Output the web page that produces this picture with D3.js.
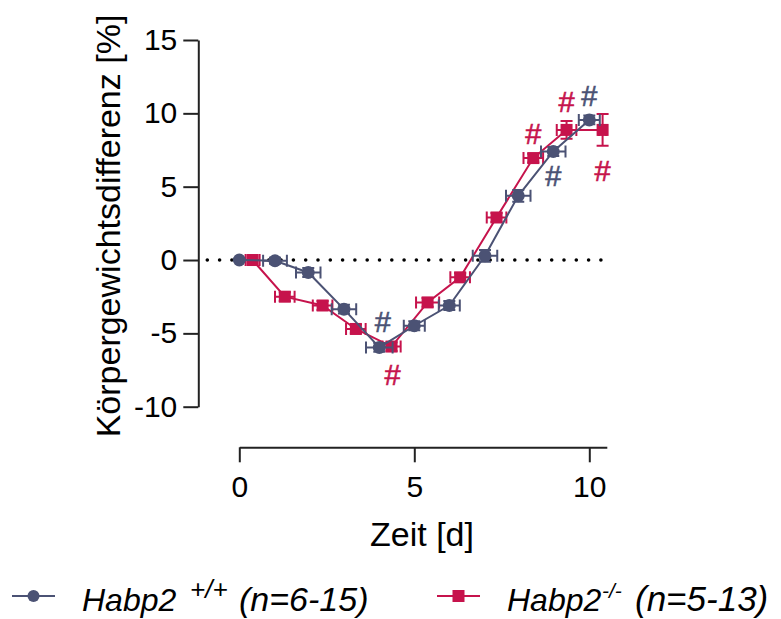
<!DOCTYPE html>
<html lang="de">
<head>
    <meta charset="UTF-8">
    <title>Körpergewichtsdifferenz | D3</title>
    <style>
        body { margin: 0; background: #fff; }
        text { font-family: "Liberation Sans", Arial, sans-serif; fill: #000; }
    </style>
</head>
<body>
    <div id="container"></div>

    <script type="text/javascript" src="https://d3js.org/d3.v7.min.js"></script>
    <script type="text/javascript">
        // Habp2 +/+ (circles)
        var wtDays  = [0, 1.02, 1.97, 2.99, 4.0, 5.0, 6.0, 7.02, 7.97, 8.97, 10.0];
        var wtMean  = [0, -0.05, -0.85, -3.35, -5.96, -4.48, -3.1, 0.29, 4.38, 7.4, 9.55];
        var wtDayErr = [0, 0.34, 0.35, 0.35, 0.38, 0.3, 0.3, 0.35, 0.35, 0.35, 0.3];
        var wtErr   = [0, 0.2, 0.3, 0.3, 0.3, 0.3, 0.3, 0.4, 0.4, 0.3, 0.3];

        // Habp2 -/- (squares)
        var koDays  = [0.38, 1.3, 2.38, 3.33, 4.35, 5.38, 6.31, 7.35, 8.4, 9.35, 10.38];
        var koMean  = [0, -2.5, -3.1, -4.7, -5.9, -2.89, -1.18, 2.9, 6.95, 8.87, 8.87];
        var koDayErr = [0.2, 0.28, 0.28, 0.28, 0.26, 0.33, 0.28, 0.28, 0.28, 0.28, 0.1];
        var koErr   = [0, 0.3, 0.3, 0.3, 0.3, 0.3, 0.3, 0.3, 0.3, 0.6, 1.08];

        // significance marks (#), placed in data units
        var hashSeries = ["wt", "ko", "ko", "wt", "ko", "wt", "ko"];
        var hashX      = [4.1, 4.38, 8.4, 8.97, 9.35, 10.0, 10.38];
        var hashY      = [-4.2, -7.8, 8.6, 5.76, 10.75, 11.2, 6.05];

        var xTicks = [0, 5, 10];
        var yTicks = [-10, -5, 0, 5, 10, 15];

        var colors = { wt: "#4b5274", ko: "#c6134c" };

        var svg = d3.select("#container")
            .append("svg")
            .attr("width", 781)
            .attr("height", 619);

        var x = d3.scaleLinear().domain([0, 10.5]).range([239.3, 606.8]);
        var y = d3.scaleLinear().domain([-10, 15]).range([406.7, 40]);

        // plain hyphen for negatives, like the original
        var fmt = function(d) { return String(d); };

        // axes
        var yAxis = svg.append("g")
            .attr("transform", "translate(198.3,0)")
            .call(d3.axisLeft(y).tickValues(yTicks).tickFormat(fmt)
                .tickSize(15).tickPadding(6).tickSizeOuter(0));
        var xAxis = svg.append("g")
            .attr("transform", "translate(0,447.3)")
            .call(d3.axisBottom(x).tickValues(xTicks).tickFormat(fmt)
                .tickSize(15).tickPadding(13).tickSizeOuter(0));

        [yAxis, xAxis].forEach(function(ax) {
            ax.select(".domain").attr("stroke", "#222").attr("stroke-width", 2);
            ax.selectAll(".tick line").attr("stroke", "#222").attr("stroke-width", 2);
            ax.selectAll(".tick text")
                .attr("font-size", 30)
                .attr("font-family", "'Liberation Sans', Arial, sans-serif")
                .attr("fill", "#111");
        });

        // dotted zero line
        svg.append("line")
            .attr("x1", 198.3 + 9).attr("x2", x(10.5))
            .attr("y1", y(0)).attr("y2", y(0))
            .attr("stroke", "#000")
            .attr("stroke-width", 3.6)
            .attr("stroke-linecap", "round")
            .attr("stroke-dasharray", "0 12.3");

        function makeSeries(days, mean, dayErr, err) {
            return days.map(function(d, i) {
                return { x: d, y: mean[i], ex: dayErr[i], ey: err[i] };
            });
        }

        var series = [
            { key: "wt", shape: "circle", data: makeSeries(wtDays, wtMean, wtDayErr, wtErr) },
            { key: "ko", shape: "square", data: makeSeries(koDays, koMean, koDayErr, koErr) }
        ];

        var line = d3.line()
            .x(function(d) { return x(d.x); })
            .y(function(d) { return y(d.y); });

        var cap = 6;

        // draw wt last so it sits on top like in the reference
        [series[1], series[0]].forEach(function(s) {
            var g = svg.append("g");
            var c = colors[s.key];

            g.append("path")
                .datum(s.data)
                .attr("d", line)
                .attr("fill", "none")
                .attr("stroke", c)
                .attr("stroke-width", 2);

            var eb = g.append("g")
                .attr("stroke", c)
                .attr("stroke-width", 2)
                .selectAll("g")
                .data(s.data.filter(function(d) { return d.ex > 0 || d.ey > 0; }))
                .enter().append("g");

            // horizontal error bars
            eb.filter(function(d) { return d.ex > 0; }).append("path")
                .attr("fill", "none")
                .attr("d", function(d) {
                    var x0 = x(d.x - d.ex), x1 = x(d.x + d.ex), yy = y(d.y);
                    return "M" + x0 + "," + yy + "H" + x1 +
                        "M" + x0 + "," + (yy - cap) + "V" + (yy + cap) +
                        "M" + x1 + "," + (yy - cap) + "V" + (yy + cap);
                });
            // vertical error bars
            eb.filter(function(d) { return d.ey > 0; }).append("path")
                .attr("fill", "none")
                .attr("d", function(d) {
                    var y0 = y(d.y - d.ey), y1 = y(d.y + d.ey), xx = x(d.x);
                    return "M" + xx + "," + y0 + "V" + y1 +
                        "M" + (xx - cap) + "," + y0 + "H" + (xx + cap) +
                        "M" + (xx - cap) + "," + y1 + "H" + (xx + cap);
                });

            if (s.shape === "circle") {
                g.selectAll("circle")
                    .data(s.data)
                    .enter().append("circle")
                    .attr("cx", function(d) { return x(d.x); })
                    .attr("cy", function(d) { return y(d.y); })
                    .attr("r", 6.5)
                    .attr("fill", c);
            } else {
                g.selectAll("rect")
                    .data(s.data)
                    .enter().append("rect")
                    .attr("x", function(d) { return x(d.x) - 6; })
                    .attr("y", function(d) { return y(d.y) - 6; })
                    .attr("width", 12)
                    .attr("height", 12)
                    .attr("fill", c);
            }
        });

        // # marks
        svg.append("g")
            .selectAll("text")
            .data(hashX)
            .enter().append("text")
            .attr("x", function(d) { return x(d); })
            .attr("y", function(d, i) { return y(hashY[i]); })
            .attr("dy", "0.35em")
            .attr("text-anchor", "middle")
            .attr("font-size", 29)
            .attr("stroke-width", 0.6)
            .style("fill", function(d, i) { return colors[hashSeries[i]]; })
            .style("stroke", function(d, i) { return colors[hashSeries[i]]; })
            .text("#");

        // axis titles
        svg.append("text")
            .attr("transform", "translate(120,226) rotate(-90)")
            .attr("text-anchor", "middle")
            .attr("font-size", 34)
            .text("Körpergewichtsdifferenz [%]");

        svg.append("text")
            .attr("x", 422)
            .attr("y", 546)
            .attr("text-anchor", "middle")
            .attr("font-size", 34)
            .text("Zeit [d]");

        // legend
        var legendItems = [
            { key: "wt", shape: "circle", x: 12, name: 82, supX: 190, supSize: 26, nX: 239, nSize: 34, sup: "+/+", n: "(n=6-15)" },
            { key: "ko", shape: "square", x: 437, name: 507, supX: 602, supSize: 21, nX: 635, nSize: 35, sup: "-/-", n: "(n=5-13)" }
        ];
        var ly = 596;
        var legend = svg.append("g");
        legendItems.forEach(function(it) {
            var c = colors[it.key];
            legend.append("line")
                .attr("x1", it.x).attr("x2", it.x + 43)
                .attr("y1", ly).attr("y2", ly)
                .attr("stroke", c).attr("stroke-width", 2);
            if (it.shape === "circle") {
                legend.append("circle")
                    .attr("cx", it.x + 21.5).attr("cy", ly).attr("r", 6)
                    .attr("fill", c);
            } else {
                legend.append("rect")
                    .attr("x", it.x + 15.5).attr("y", ly - 6)
                    .attr("width", 12).attr("height", 12)
                    .attr("fill", c);
            }
            legend.append("text")
                .attr("x", it.name).attr("y", 611)
                .attr("font-size", 32).attr("font-style", "italic")
                .text("Habp2");
            legend.append("text")
                .attr("x", it.supX).attr("y", 598)
                .attr("font-size", it.supSize).attr("font-style", "italic")
                .text(it.sup);
            legend.append("text")
                .attr("x", it.nX).attr("y", 611)
                .attr("font-size", it.nSize).attr("font-style", "italic")
                .text(it.n);
        });
    </script>
</body>
</html>
